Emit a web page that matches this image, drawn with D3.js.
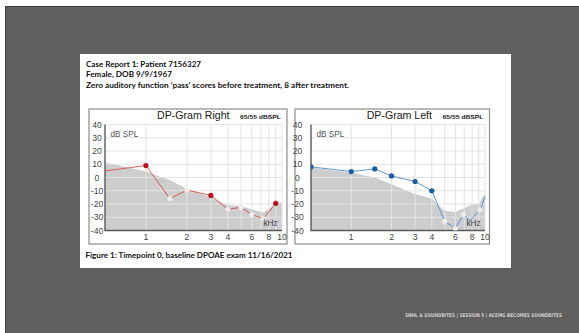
<!DOCTYPE html>
<html>
<head>
<meta charset="utf-8">
<script src="https://cdn.jsdelivr.net/npm/d3@7"></script>
<style>
  html, body { margin: 0; padding: 0; background: #fff; }
  svg { display: block; }
</style>
</head>
<body>
<svg id="slide" width="579" height="333"></svg>
<script>
// text of the slide
const headerLines = [
  "Case Report 1: Patient 7156327",
  "Female, DOB 9/9/1967",
  "Zero auditory function \u2018pass\u2019 scores before treatment, 8 after treatment."
];
const caption = "Figure 1: Timepoint 0, baseline DPOAE exam 11/16/2021";
const footer = "SNHL & SOUNDBITES  | SESSION 5 | ACEMG BECOMES SOUNDBITES";

// axes
const freqTicks = [1, 2, 3, 4, 6, 8, 10];
const freqGrid = [1, 2, 3, 4, 5, 6, 7, 8, 9, 10];
const levelTicks = [40, 30, 20, 10, 0, -10, -20, -30, -40];

// right ear
const rightNoiseFreqs = [0.5, 1, 1.5, 2, 3, 4, 5, 6, 7.3, 8, 9, 10];
const rightNoiseLevels = [11.5, 4.5, -2, -8.5, -15, -21, -21.5, -24, -26.5, -23.5, -20, -18.5];
const rightFreqs = [0.5, 1, 1.5, 2, 3, 4, 5, 6, 7.3, 9];
const rightLevels = [5, 9, -16, -9.5, -13.5, -24, -22.5, -28, -31, -19.5];
const rightStatus = ["none", "pass", "fail", "fail", "pass", "fail", "fail", "fail", "fail", "pass"];

// left ear
const leftNoiseFreqs = [0.5, 1, 1.5, 2, 3, 4, 4.5, 5, 6, 7, 8, 9, 10];
const leftNoiseLevels = [7.5, 3.5, 0, -5, -12.5, -16, -21, -25, -26, -23, -20.5, -20, -11.5];
const leftFreqs = [0.5, 1, 1.5, 2, 3, 4, 5, 6, 6.9, 7.7, 9.2, 10];
const leftLevels = [8, 4.5, 6.5, 1.2, -3, -10, -33, -38.5, -28, -32.5, -24.5, -14.5];
const leftStatus = ["pass", "pass", "pass", "pass", "pass", "pass", "fail", "fail", "fail", "none", "fail", "none"];

const svg = d3.select("#slide");

// slide background
svg.append("rect").attr("x", 5).attr("y", 6).attr("width", 574).attr("height", 327)
  .attr("fill", "#5f5f5f");
svg.append("path").attr("d", "M5.5,333V6.5H579")
  .attr("fill", "none").attr("stroke", "#3e3e3e").attr("stroke-width", 1);

// white card
svg.append("rect").attr("x", 80).attr("y", 54).attr("width", 431).attr("height", 214)
  .attr("fill", "#fff");

const headFont = "Lato, 'Open Sans', sans-serif";
const headBase = [66.8, 77.2, 88.4];
const headLen = [115, 86, 263];
svg.selectAll(".head")
  .data(headerLines)
  .enter().append("text")
  .attr("class", "head")
  .attr("x", 86)
  .attr("y", (d, i) => headBase[i])
  .attr("font-family", headFont)
  .attr("font-weight", "bold")
  .attr("font-size", 7.2)
  .attr("fill", "#111")
  .attr("textLength", (d, i) => headLen[i])
  .attr("lengthAdjust", "spacingAndGlyphs")
  .text(d => d);

svg.append("text")
  .attr("x", 85.5).attr("y", 257.6)
  .attr("font-family", headFont).attr("font-weight", "bold").attr("font-size", 7.2)
  .attr("fill", "#111")
  .attr("textLength", 207).attr("lengthAdjust", "spacingAndGlyphs")
  .text(caption);

// footer: squeeze horizontally to the width seen in the slide
const foot = svg.append("text")
  .attr("font-family", "'DejaVu Sans Condensed', 'DejaVu Sans', sans-serif")
  .attr("font-weight", "bold").attr("font-size", 5.2)
  .attr("fill", "#cfcfcf")
  .text(footer);
const footLen = foot.node().getComputedTextLength();
foot.attr("transform", `translate(405,316.5) scale(${157 / footLen},1)`);

// one DP-gram panel
function drawPanel(cfg) {
  const g = svg.append("g");
  const fr = cfg.frame;

  g.append("rect")
    .attr("x", fr[0]).attr("y", fr[1])
    .attr("width", fr[2] - fr[0]).attr("height", fr[3] - fr[1])
    .attr("fill", "#fff").attr("stroke", "#8c8c8c").attr("stroke-width", 1.2);

  const x = d3.scaleLog().domain([0.5, 10]).range([cfg.plotX0, cfg.plotX1]);
  const y = d3.scaleLinear().domain([-40, 40]).range([230.5, 124.5]);

  const clipId = "clip-" + cfg.name;
  g.append("clipPath").attr("id", clipId)
    .append("rect")
    .attr("x", x(0.5)).attr("y", y(40) - 4)
    .attr("width", x(10) - x(0.5) + 4).attr("height", y(-40) - y(40) + 4);

  const noise = cfg.noiseFreqs.map((f, i) => ({ f: f, v: cfg.noiseLevels[i] }));
  const area = d3.area()
    .x(d => x(d.f))
    .y0(y(-40))
    .y1(d => y(d.v));
  g.append("path")
    .datum(noise)
    .attr("d", area)
    .attr("fill", "#cdcdcd");

  // grid
  g.selectAll(".hgrid")
    .data(levelTicks.filter(v => v > -40))
    .enter().append("line")
    .attr("x1", x(0.5)).attr("x2", x(10))
    .attr("y1", d => y(d)).attr("y2", d => y(d))
    .attr("stroke", "#e3e3e3").attr("stroke-width", 1);
  g.selectAll(".vgrid")
    .data(freqGrid)
    .enter().append("line")
    .attr("x1", d => x(d)).attr("x2", d => x(d))
    .attr("y1", y(40)).attr("y2", y(-40))
    .attr("stroke", "#e3e3e3").attr("stroke-width", 1);

  // axes
  g.append("path")
    .attr("d", `M${x(0.5)},${y(40)}V${y(-40)}H${x(10)}`)
    .attr("fill", "none").attr("stroke", "#5a5a5a").attr("stroke-width", 1.4);

  g.selectAll(".ylab")
    .data(levelTicks)
    .enter().append("text")
    .attr("x", cfg.labelX)
    .attr("y", d => y(d) + 3)
    .attr("text-anchor", "middle")
    .attr("font-family", "'Liberation Sans', Arial, sans-serif")
    .attr("font-size", 8.6)
    .attr("fill", "#444")
    .text(d => d);

  g.selectAll(".xlab")
    .data(freqTicks)
    .enter().append("text")
    .attr("x", d => x(d))
    .attr("y", 240.2)
    .attr("text-anchor", "middle")
    .attr("font-family", "'Liberation Sans', Arial, sans-serif")
    .attr("font-size", 8.6)
    .attr("fill", "#444")
    .text(d => d);

  // data line and markers
  const pts = cfg.freqs.map((f, i) => ({ f: f, v: cfg.levels[i], s: cfg.status[i] }));
  const dataG = g.append("g").attr("clip-path", `url(#${clipId})`);
  dataG.append("path")
    .datum(pts)
    .attr("d", d3.line().x(d => x(d.f)).y(d => y(d.v)))
    .attr("fill", "none")
    .attr("stroke", cfg.lineColor)
    .attr("stroke-width", 0.9);
  dataG.selectAll(".mk")
    .data(pts.filter(d => d.s !== "none"))
    .enter().append("circle")
    .attr("cx", d => x(d.f))
    .attr("cy", d => y(d.v))
    .attr("r", 2.6)
    .attr("fill", d => d.s === "pass" ? cfg.markColor : "#ececec");

  // labels inside plot
  g.append("text")
    .attr("x", x(0.5) + 5.5).attr("y", 137.3)
    .attr("font-family", "'Liberation Sans', Arial, sans-serif")
    .attr("font-size", 8.2).attr("fill", "#555")
    .text("dB SPL");
  g.append("text")
    .attr("x", x(10) - 18.5).attr("y", 225.5)
    .attr("font-family", "'Liberation Sans', Arial, sans-serif")
    .attr("font-size", 8.2).attr("fill", "#444")
    .text("kHz");

  // titles
  g.append("text")
    .attr("x", fr[2] - 57.5).attr("y", 119.3)
    .attr("text-anchor", "end")
    .attr("font-family", "'Liberation Sans', Arial, sans-serif")
    .attr("font-size", 10.6).attr("fill", "#1a1a1a")
    .text(cfg.title);
  g.append("text")
    .attr("x", fr[2] - 6).attr("y", 119.3)
    .attr("text-anchor", "end")
    .attr("font-family", "'Liberation Sans Narrow', 'Liberation Sans', Arial, sans-serif")
    .attr("font-weight", "bold")
    .attr("font-size", 6.2).attr("fill", "#222")
    .attr("textLength", 41).attr("lengthAdjust", "spacingAndGlyphs")
    .text("65/55 dBSPL");
}

drawPanel({
  name: "right", title: "DP-Gram Right",
  frame: [89, 109, 287, 244], plotX0: 105, plotX1: 282, labelX: 97,
  noiseFreqs: rightNoiseFreqs, noiseLevels: rightNoiseLevels,
  freqs: rightFreqs, levels: rightLevels, status: rightStatus,
  lineColor: "#d0504e", markColor: "#bf0f1c"
});

drawPanel({
  name: "left", title: "DP-Gram Left",
  frame: [295, 109, 489.5, 244], plotX0: 311, plotX1: 485, labelX: 297.5,
  noiseFreqs: leftNoiseFreqs, noiseLevels: leftNoiseLevels,
  freqs: leftFreqs, levels: leftLevels, status: leftStatus,
  lineColor: "#4c8cc9", markColor: "#1a5ca6"
});
</script>
</body>
</html>
